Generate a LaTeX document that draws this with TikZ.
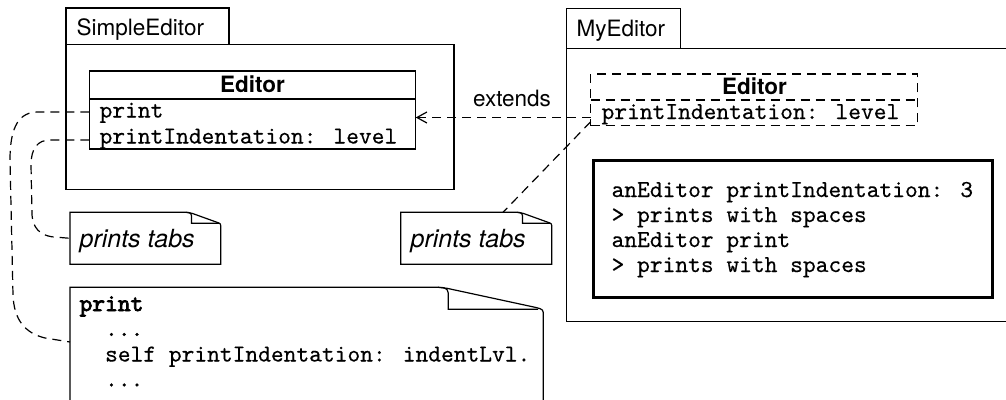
\documentclass[tikz,border=0pt]{standalone}
\usepackage{fontspec}
\newfontfamily\hv{TeX Gyre Heros}
\newfontfamily\lmmono{lmmono10-regular.otf}[FakeBold=0.4]
\newfontfamily\lmmonob{lmmono10-regular.otf}[FakeBold=3]
\usetikzlibrary{arrows.meta}
\newcommand\mtt{\lmmono\fontsize{24.3}{25}\selectfont}
\newcommand\mttb{\lmmonob\fontsize{24.3}{25}\selectfont}
\newcommand\hvs{\hv\fontsize{22.5}{25}\selectfont}
\begin{document}
\begin{tikzpicture}[x=1pt,y=-1pt,line width=1.2pt,
  box/.style={draw,rectangle,inner sep=0pt,outer sep=0pt,anchor=north west},
  hole/.style={rectangle,inner sep=0pt,outer sep=0pt,anchor=north west},
  dsh/.style={dash pattern=on 9pt off 6pt},
  conn/.style={draw,dsh},
  code/.style={anchor=base west,inner sep=0pt,font=\mtt},
  lbl/.style={anchor=base west,inner sep=0pt,font=\hvs},
  cls/.style={anchor=base,inner sep=0pt,font=\hv\bfseries\fontsize{22.5}{25}\selectfont},
  notetxt/.style={anchor=base west,inner sep=0pt,font=\hv\itshape\fontsize{25}{28}\selectfont}]
\useasboundingbox (0,0) rectangle (1006,399);

% packages
\node[box,minimum width=163pt,minimum height=36.3pt] (tab1) at (66,8) {};
\node[box,minimum width=388pt,minimum height=145.2pt] (pkg1) at (66,44.3) {};
\node[lbl] (t1) at (76,35) {SimpleEditor};
\node[box,minimum width=114pt,minimum height=40pt] (tab2) at (566.3,8.3) {};
\node[box,minimum width=446pt,minimum height=273.4pt] (pkg2) at (566.3,48.3) {};
\node[lbl] (t2) at (576,36) {MyEditor};

% class Editor (SimpleEditor)
\node[box,minimum width=326.4pt,minimum height=78pt] (ed1) at (89.3,71) {};
\draw (89.3,99) -- (415.7,99);
\node[cls] (ed1t) at (252.5,92) {Editor};
\node[code] (a1) at (99,117.5) {print};
\node[code] (a2) at (99,143.5) {printIndentation: level};

% class Editor (MyEditor, dashed)
\node[box,dsh,minimum width=326.6pt,minimum height=51.7pt] (ed2) at (590.7,74) {};
\draw[dsh] (590.7,100) -- (917.3,100);
\node[cls] (ed2t) at (754.5,94.3) {Editor};
\node[code] (b1) at (601,119) {printIndentation: level};

% workspace box
\node[box,line width=3pt,minimum width=398.5pt,minimum height=137.5pt] (ws) at (593.5,160) {};
\node[code] (w1) at (611,197) {anEditor printIndentation: 3};
\node[code] (w2) at (611,222) {> prints with spaces};
\node[code] (w3) at (611,247) {anEditor print};
\node[code] (w4) at (611,272) {> prints with spaces};

% notes
\node[hole,minimum width=150.7pt,minimum height=52pt] (note1) at (70,212.3) {};
\draw (70,264.3) -- (70,212.3) -- (186,212.3) .. controls (189,212.3) .. (192,213.3)
  -- (217,222.3) .. controls (220.7,223.6) .. (220.7,227.5) -- (220.7,264.3) -- cycle;
\draw (186,212.3) .. controls (191.5,212.3) and (191.5,214) .. (191.5,218) -- (191.5,223.3) -- (219,223.3);
\node[notetxt] (n1t) at (79,247) {prints tabs};

\node[hole,minimum width=151pt,minimum height=52pt] (note2) at (400.7,212.3) {};
\draw (400.7,264.3) -- (400.7,212.3) -- (517,212.3) .. controls (520,212.3) .. (523,213.3)
  -- (548,222.3) .. controls (551.7,223.6) .. (551.7,227.5) -- (551.7,264.3) -- cycle;
\draw (517,212.3) .. controls (522.5,212.3) and (522.5,214) .. (522.5,218) -- (522.5,223.3) -- (550,223.3);
\node[notetxt] (n2t) at (410,247) {prints tabs};

\node[hole,minimum width=473.3pt,minimum height=130pt] (cnote) at (70,287.3) {};
\draw (70,420) -- (70,287.3) -- (438,287.3) .. controls (443,287.3) .. (447,288.3)
  -- (536,307.5) .. controls (543.3,309.5) .. (543.3,316) -- (543.3,420);
\draw (438,287.3) .. controls (448.3,287.3) and (448.3,290) .. (448.3,297) -- (448.3,309.3) -- (538,309.3);
\node[code,font=\mttb] (c1) at (79,311) {print};
\node[code] (c2) at (104.5,336) {...};
\node[code] (c3) at (104.5,361.5) {self printIndentation: indentLvl.};
\node[code] (c4) at (104.5,386.5) {...};

% connectors
\draw[conn] (ed1.west |- 0,112) -- (38,112) .. controls (20,112) and (10,125) .. (10,160)
  -- (13,295) .. controls (14,320) and (25,333) .. (45,338) -- ([yshift=-54.7pt]cnote.north west);
\draw[conn] (ed1.west |- 0,140) -- (50,140) .. controls (38,140) and (31,148) .. (31,165)
  -- (32,215) .. controls (33,228) and (40,235) .. (52,236.8) -- (note1.west);
\draw[conn] ([yshift=4pt]ed2.south west) -- ([xshift=102.3pt]note2.north west);
\draw[conn,-{Straight Barb[length=10pt,width=11pt]}] (ed2.west |- 0,117.5) -- (ed1.east |- 0,117.5);
\node[anchor=base,inner sep=0pt,font=\hvs] (ext) at (512,106.7) {extends};
\end{tikzpicture}
\end{document}
